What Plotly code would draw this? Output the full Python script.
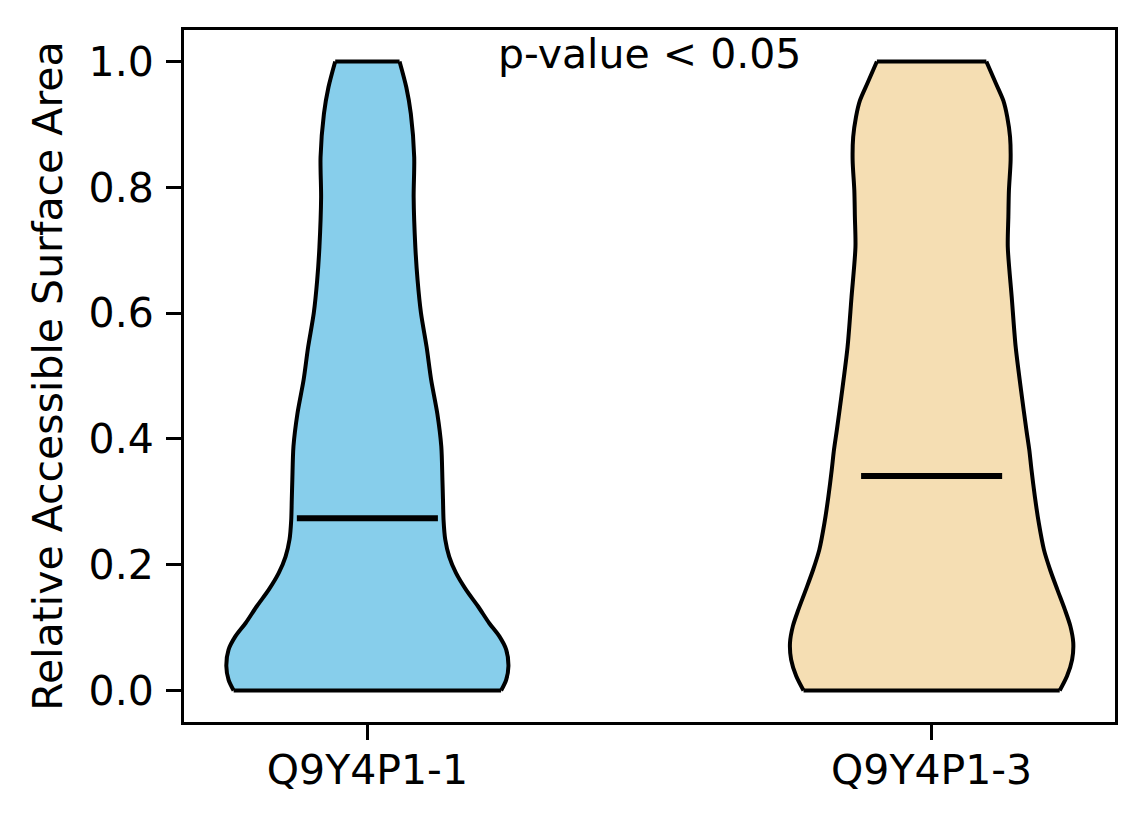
# Violin plot of relative accessible surface area for two isoforms
import plotly.graph_objects as go

# ---------------------------------------------------------------------------
# Data: density profiles as half-widths per RSA level
# ---------------------------------------------------------------------------
isoforms = ["Q9Y4P1-1", "Q9Y4P1-3"]
positions = [1, 2]
colors = ["#87CEEB", "#F5DEB3"]

iso1_rsa = [0.0, 0.017, 0.039, 0.065, 0.086, 0.107, 0.134, 0.160, 0.187, 0.213,
            0.240, 0.271, 0.303, 0.335, 0.388, 0.44, 0.494, 0.546, 0.60, 0.652,
            0.705, 0.784, 0.848, 0.917, 0.959, 1.0]
iso1_halfwidth = [0.237, 0.246, 0.250, 0.246, 0.234, 0.216, 0.196, 0.175, 0.157, 0.145,
                  0.138, 0.135, 0.134, 0.133, 0.131, 0.124, 0.113, 0.105, 0.095, 0.089,
                  0.085, 0.082, 0.083, 0.077, 0.069, 0.057]

iso3_rsa = [0.0, 0.023, 0.049, 0.076, 0.102, 0.129, 0.160, 0.192, 0.224, 0.266,
            0.308, 0.351, 0.383, 0.414, 0.467, 0.546, 0.625, 0.705, 0.753, 0.795,
            0.843, 0.880, 0.912, 0.938, 0.965, 1.0]
iso3_halfwidth = [0.227, 0.240, 0.249, 0.251, 0.246, 0.236, 0.223, 0.210, 0.199, 0.190,
                  0.183, 0.177, 0.173, 0.168, 0.160, 0.149, 0.142, 0.135, 0.136, 0.137,
                  0.140, 0.139, 0.134, 0.127, 0.114, 0.097]

medians = [0.274, 0.341]
annotation_text = "p-value < 0.05"

FONT = dict(family="DejaVu Sans", size=41, color="black")
MEDIAN_HALF = 0.125
EDGE = dict(color="black", width=4)

fig = go.Figure()

profiles = [(iso1_rsa, iso1_halfwidth), (iso3_rsa, iso3_halfwidth)]
for pos, color, (ys, hws) in zip(positions, colors, profiles):
    left = [pos - h for h in hws]
    right = [pos + h for h in hws]
    # body fill (no outline)
    fig.add_trace(go.Scatter(
        x=left + right[::-1] + [left[0]], y=list(ys) + list(ys)[::-1] + [ys[0]],
        mode="lines", fill="toself", fillcolor=color, line=dict(width=0),
        showlegend=False, hoverinfo="skip",
    ))
    # curved sides
    for side in (left, right):
        fig.add_trace(go.Scatter(
            x=side, y=ys, mode="lines",
            line=dict(shape="spline", smoothing=0.8, **EDGE),
            showlegend=False, hoverinfo="skip",
        ))
    # flat ends
    fig.add_trace(go.Scatter(
        x=[left[0], right[0], None, left[-1], right[-1]],
        y=[ys[0], ys[0], None, ys[-1], ys[-1]],
        mode="lines", line=EDGE, showlegend=False, hoverinfo="skip",
    ))

for pos, med in zip(positions, medians):
    fig.add_trace(go.Scatter(
        x=[pos - MEDIAN_HALF, pos + MEDIAN_HALF], y=[med, med], mode="lines",
        line=dict(color="black", width=6), showlegend=False, hoverinfo="skip",
    ))

fig.add_annotation(
    x=0.5, y=0.966, xref="paper", yref="paper", text=annotation_text,
    showarrow=False, xanchor="center", yanchor="middle", font=FONT,
)

axis_common = dict(
    showline=True, linecolor="black", linewidth=3, mirror=True,
    ticks="outside", ticklen=15, tickwidth=3, tickcolor="black",
    showgrid=False, zeroline=False, tickfont=FONT,
)

fig.update_xaxes(
    range=[0.675, 2.325], tickvals=positions, ticktext=isoforms,
    ticklabelstandoff=-5, **axis_common,
)
fig.update_yaxes(
    range=[-0.05, 1.05], tickvals=[0, 0.2, 0.4, 0.6, 0.8, 1.0],
    ticktext=["0.0", "0.2", "0.4", "0.6", "0.8", "1.0"],
    title=dict(text="Relative Accessible Surface Area", font=FONT, standoff=14),
    ticklabelstandoff=4, **axis_common,
)

# page body adds ~8px offset, so the figure is 8px smaller and margins shifted
fig.update_layout(
    width=1136, height=816,
    margin=dict(l=176, r=29, t=22, b=102),
    plot_bgcolor="white", paper_bgcolor="white",
    font=FONT,
)

fig.write_html("out.html")
